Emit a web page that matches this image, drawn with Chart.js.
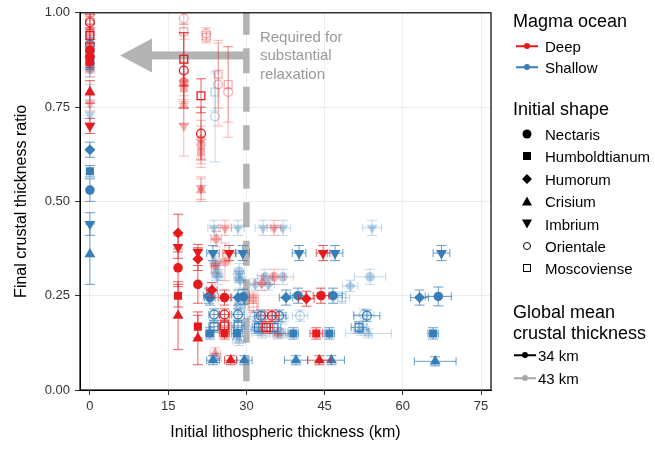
<!DOCTYPE html>
<html>
<head>
<meta charset="utf-8">
<script src="https://cdn.jsdelivr.net/npm/chart.js@4.4.0/dist/chart.umd.min.js"></script>
<style>
  body { margin: 0; background: #fff; font-family: "Liberation Sans", Arial, Helvetica, sans-serif; }
  #wrap { position: relative; width: 655px; height: 449px; }
  #legend { position: absolute; left: 0; top: 0; width: 655px; height: 449px; pointer-events: none; }
  .lg { position: absolute; white-space: nowrap; line-height: 1; transform: translateY(-50%); color: #000; }
  .sym { position: absolute; }
</style>
</head>
<body>
<div id="wrap">
  <canvas id="chart" width="655" height="449"></canvas>
  <div id="legend"></div>
</div>
<script>
const F = '"Liberation Sans", Arial, Helvetica, sans-serif';
Chart.defaults.font.family = F;

// ---- data ----
const xTicks = [0, 15, 30, 45, 60, 75];
const yTicks = [0, 0.25, 0.5, 0.75, 1];

const shapeCodes = ['N', 'H', 'U', 'C', 'I', 'O', 'M'];
const shapeNames = ['Nectaris', 'Humboldtianum', 'Humorum', 'Crisium', 'Imbrium', 'Orientale', 'Moscoviense'];
const oceanNames = ['Deep', 'Shallow'];
const crustNames = ['34 km', '43 km'];

// deep magma ocean, 34 km crust
const deep34Basin = ['N','H','U','C','I','O','M', 'U','I','N','H','C', 'O','M', 'I','U','N','H','C', 'O','M',
                     'I','C','H','N','U','O','M', 'I','C','H','N','U','O','M'];
const deep34Lith = [0,0,0,0,0,0,0, 16.9,16.9,16.9,16.9,16.9, 18,18, 20.7,20.7,20.7,20.7,20.7, 21.3,21.3,
                    26.7,27,25.8,25.8,23.4,25.8,25.8, 44.7,44,43.4,44.3,41.5,34.9,33.8];
const deep34LithErr = [0,0,0,0,0,0,0, 0,0,0,0,0, 0,0, 0,0,0,0,0, 0,0,
                       1.2,1.2,1,1.2,1,1,1, 1.3,2.2,1.2,1.5,1.5,1.3,1.2];
const deep34Ratio = [0.90,0.87,0.885,0.79,0.70,0.975,0.94, 0.416,0.379,0.324,0.25,0.197, 0.847,0.877,
                     0.366,0.347,0.28,0.168,0.137, 0.68,0.78,
                     0.363,0.079,0.15,0.245,0.265,0.2,0.17, 0.363,0.079,0.15,0.25,0.242,0.197,0.166];
const deep34RatioErr = [0.02,0.015,0.02,0.03,0.02,0.02,0.02, 0.05,0.03,0.05,0.03,0.09, 0.1,0.07,
                        0.02,0.03,0.05,0.03,0.07, 0.07,0.045,
                        0.02,0.012,0.015,0.02,0.02,0.015,0.015, 0.02,0.012,0.015,0.02,0.02,0.015,0.015];

// shallow magma ocean, 34 km crust
const shallow34Basin = ['N','H','U','C','I','O','M', 'I','C','H','N','U','O','M', 'I','C','H','N','U','O','M',
                        'I','C','H','N','U','O','M', 'I','C','H','N','O','M', 'I','C','H','N','U','O','M'];
const shallow34Lith = [0,0,0,0,0,0,0, 23.6,23.6,23.0,23.0,22.8,23.8,23.8, 29.3,29.6,28.2,29.4,28.4,28.4,28.4,
                       40.1,39.5,39.0,39.9,37.6,32.8,32.3, 47.0,46.3,45.9,46.6,36.3,35.3,
                       67.4,66.2,65.8,66.8,63.2,53.1,51.6];
const shallow34LithErr = [0,0,0,0,0,0,0, 1.2,1.2,0.8,1,1,1,1, 1.3,1.5,1,1.2,1.2,1.2,1.2,
                          1.3,2.2,1,1.5,1.3,1.2,1.2, 1.5,2.5,1,1.8,1.3,1.3, 1.6,4,1,2.5,1.7,2.5,1.5];
const shallow34Ratio = [0.53,0.58,0.637,0.36,0.44,0.915,0.87, 0.363,0.079,0.15,0.245,0.25,0.2,0.168,
                        0.363,0.079,0.15,0.247,0.245,0.2,0.17, 0.363,0.079,0.15,0.25,0.245,0.197,0.166,
                        0.363,0.079,0.15,0.25,0.197,0.166, 0.363,0.076,0.15,0.248,0.245,0.197,0.166];
const shallow34RatioErr = [0.03,0.015,0.02,0.08,0.03,0.02,0.02, 0.02,0.012,0.015,0.02,0.02,0.015,0.015,
                           0.02,0.012,0.015,0.02,0.02,0.015,0.015, 0.02,0.012,0.015,0.02,0.02,0.015,0.015,
                           0.02,0.012,0.015,0.02,0.015,0.015, 0.02,0.012,0.015,0.025,0.02,0.015,0.015];

// deep magma ocean, 43 km crust
const deep43Basin = ['N','H','U','C','I','O','M', 'O','M','N','U','H','C','I', 'O','M', 'N','U','H','C','I',
                     'O','M', 'O','M', 'I','U','N','H','C', 'I','N','U','H','C','O','M'];
const deep43Lith = [0,0,0,0,0,0,0, 18,18,18,18,18,18,18, 22.3,22.3, 21.3,21.3,21.3,21.3,21.3,
                    24.6,24.6, 26.5,26.5, 25.9,24.2,25.9,24.0,24.0, 35.3,35.3,33.0,31.3,36.0,33.5,31.3];
const deep43LithErr = [0,0,0,0,0,0,0, 0,0,0,0,0,0,0, 0,0, 0,0,0,0,0,
                       0,0, 0,0, 1.2,1,1,0.8,1, 1.3,2,1.5,1,2,1.2,1];
const deep43Ratio = [0.95,0.92,0.91,0.85,0.76,1.0,0.98, 0.985,0.95,0.815,0.82,0.80,0.755,0.70, 0.945,0.935,
                     0.65,0.665,0.63,0.53,0.535, 0.81,0.837, 0.79,0.81,
                     0.43,0.40,0.34,0.33,0.097, 0.43,0.30,0.284,0.245,0.15,0.197,0.22];
const deep43RatioErr = [0.02,0.02,0.02,0.02,0.02,0.02,0.02, 0.015,0.02,0.05,0.05,0.04,0.05,0.08, 0.015,0.015,
                        0.05,0.05,0.04,0.03,0.03, 0.11,0.09, 0.12,0.1,
                        0.02,0.02,0.05,0.02,0.015, 0.02,0.02,0.02,0.015,0.012,0.015,0.015];

// shallow magma ocean, 43 km crust
const shallow43Basin = ['N','H','U','C','I','O','M', 'O','M', 'I','H','N','U','C', 'I','N','H','U','C','O','M',
                        'I','N','U','H','C','O','M', 'I','N','U','H','C','O','M', 'I','N','U','C','M','O','H'];
const shallow43Lith = [0,0,0,0,0,0,0, 24,24, 23.8,24.0,24.3,24.5,24.2, 28.4,28.6,28.6,28.8,28.6,28.8,28.8,
                       33.2,33.6,31.7,32.0,33.0,31.5,32.5, 37.0,37.0,34.2,36.0,37.0,40.3,36.8,
                       54.1,53.7,49.9,53.4,48.3,52.5,52.0];
const shallow43LithErr = [0,0,0,0,0,0,0, 0,0, 1.2,1,1,1,1, 1.2,1,1,1,1.2,1,1,
                          1.5,1.5,1,1.2,2,1.2,1.2, 1.5,2,1.2,1.5,2.5,1.5,1.2, 1.8,3,1.5,4.4,1.5,2,1.5];
const shallow43Ratio = [0.90,0.86,0.85,0.79,0.73,0.945,0.91, 0.725,0.79, 0.43,0.335,0.31,0.30,0.085,
                        0.43,0.315,0.30,0.29,0.13,0.23,0.22, 0.43,0.30,0.28,0.16,0.15,0.195,0.19,
                        0.43,0.30,0.28,0.15,0.15,0.197,0.19, 0.43,0.30,0.276,0.15,0.245,0.20,0.16];
const shallow43RatioErr = [0.02,0.02,0.02,0.02,0.02,0.02,0.02, 0.12,0.05, 0.02,0.02,0.02,0.02,0.012,
                           0.02,0.02,0.015,0.02,0.012,0.015,0.015, 0.02,0.02,0.015,0.015,0.012,0.015,0.015,
                           0.02,0.02,0.015,0.015,0.012,0.015,0.015, 0.02,0.02,0.015,0.012,0.015,0.015,0.015];

// annotation
const guideX = 30;
const arrowY = 0.887, arrowTipX = 5.8, arrowHeadX = 11.9;
const noteX = 32.6, noteY = 0.934;
const noteLines = ['Required for', 'substantial', 'relaxation'];

const RED = [228, 26, 28], BLUE = [55, 126, 184];
function rgba(c, a) { return 'rgba(' + c[0] + ',' + c[1] + ',' + c[2] + ',' + a + ')'; }

function styleFor(code) {
  switch (code) {
    case 'N': return { ps: 'circle', r: 4.8, rot: 0, fill: true };
    case 'H': return { ps: 'rect', r: 5.7, rot: 0, fill: true };
    case 'U': return { ps: 'rectRot', r: 5.5, rot: 0, fill: true };
    case 'C': return { ps: 'triangle', r: 6.3, rot: 0, fill: true };
    case 'I': return { ps: 'triangle', r: 6.3, rot: 180, fill: true };
    case 'O': return { ps: 'circle', r: 4.4, rot: 0, fill: false };
    case 'M': return { ps: 'rect', r: 5.5, rot: 0, fill: false };
  }
}

function makeSet(label, color, alpha, barAlpha, basins, xs, xe, ys, ye) {
  return {
    label: label,
    data: xs.map((x, i) => ({ x: x, y: ys[i] })),
    color: color, barAlpha: barAlpha, xErr: xe, yErr: ye,
    pointStyle: c => styleFor(basins[c.dataIndex]).ps,
    pointRotation: c => styleFor(basins[c.dataIndex]).rot,
    pointRadius: c => styleFor(basins[c.dataIndex]).r,
    pointHoverRadius: c => styleFor(basins[c.dataIndex]).r,
    pointBackgroundColor: c => styleFor(basins[c.dataIndex]).fill ? rgba(color, alpha) : 'rgba(0,0,0,0)',
    pointBorderColor: rgba(color, alpha),
    pointBorderWidth: c => styleFor(basins[c.dataIndex]).fill ? 0 : 1.3,
    showLine: false
  };
}

const datasets = [
  makeSet('Deep 34 km', RED, 1, 0.7, deep34Basin, deep34Lith, deep34LithErr, deep34Ratio, deep34RatioErr),
  makeSet('Shallow 34 km', BLUE, 1, 0.75, shallow34Basin, shallow34Lith, shallow34LithErr, shallow34Ratio, shallow34RatioErr),
  makeSet('Deep 43 km', RED, 0.35, 0.3, deep43Basin, deep43Lith, deep43LithErr, deep43Ratio, deep43RatioErr),
  makeSet('Shallow 43 km', BLUE, 0.35, 0.3, shallow43Basin, shallow43Lith, shallow43LithErr, shallow43Ratio, shallow43RatioErr)
];

// error bars, drawn under each dataset's points
const errorBars = {
  id: 'errorBars',
  beforeDatasetDraw(chart, args) {
    const ds = chart.data.datasets[args.index];
    const { ctx, chartArea: a, scales: { x, y } } = chart;
    ctx.save();
    ctx.beginPath(); ctx.rect(a.left, a.top, a.right - a.left, a.bottom - a.top); ctx.clip();
    ctx.strokeStyle = rgba(ds.color, ds.barAlpha);
    ctx.lineWidth = 1;
    ds.data.forEach((p, i) => {
      const px = x.getPixelForValue(p.x), py = y.getPixelForValue(p.y);
      const xe = ds.xErr[i], ye = ds.yErr[i];
      ctx.beginPath();
      if (xe > 0) {
        const l = x.getPixelForValue(p.x - xe), r = x.getPixelForValue(p.x + xe);
        ctx.moveTo(l, py); ctx.lineTo(r, py);
        ctx.moveTo(l, py - 4); ctx.lineTo(l, py + 4);
        ctx.moveTo(r, py - 4); ctx.lineTo(r, py + 4);
      }
      if (ye > 0) {
        const t = y.getPixelForValue(p.y + ye), b = y.getPixelForValue(p.y - ye);
        ctx.moveTo(px, t); ctx.lineTo(px, b);
        ctx.moveTo(px - 5, t); ctx.lineTo(px + 5, t);
        ctx.moveTo(px - 5, b); ctx.lineTo(px + 5, b);
      }
      ctx.stroke();
    });
    ctx.restore();
  }
};

// dashed threshold, arrow and note
const guide = {
  id: 'guide',
  beforeDatasetsDraw(chart) {
    const { ctx, chartArea: a, scales: { x, y } } = chart;
    const gx = x.getPixelForValue(guideX);
    ctx.save();
    ctx.strokeStyle = '#b3b3b3';
    ctx.lineWidth = 6.5;
    ctx.setLineDash([25, 13.5]);
    ctx.lineDashOffset = 3;
    ctx.beginPath(); ctx.moveTo(gx, a.top); ctx.lineTo(gx, a.bottom); ctx.stroke();
    ctx.setLineDash([]);

    const ay = y.getPixelForValue(arrowY);
    const tip = x.getPixelForValue(arrowTipX), head = x.getPixelForValue(arrowHeadX);
    ctx.fillStyle = '#b3b3b3';
    ctx.fillRect(head - 2, ay - 4, gx - head, 8);
    ctx.beginPath();
    ctx.moveTo(tip, ay); ctx.lineTo(head, ay - 17); ctx.lineTo(head, ay + 17);
    ctx.closePath(); ctx.fill();

    ctx.fillStyle = '#999';
    ctx.font = '15px ' + F;
    ctx.textBaseline = 'middle';
    ctx.textAlign = 'left';
    const nx = x.getPixelForValue(noteX), ny = y.getPixelForValue(noteY);
    noteLines.forEach((t, i) => ctx.fillText(t, nx, ny + i * 18.5));
    ctx.restore();
  }
};

const frame = {
  id: 'frame',
  afterDraw(chart) {
    const { ctx, chartArea: a } = chart;
    ctx.save();
    ctx.strokeStyle = '#000';
    ctx.lineWidth = 1.2;
    ctx.strokeRect(a.left, a.top, a.right - a.left, a.bottom - a.top);
    ctx.restore();
  }
};

new Chart(document.getElementById('chart'), {
  type: 'scatter',
  data: { datasets: datasets },
  options: {
    responsive: false,
    animation: false,
    events: [],
    layout: { padding: { top: 10, right: 164, left: 0, bottom: 0 } },
    plugins: { legend: { display: false }, tooltip: { enabled: false } },
    scales: {
      x: {
        type: 'linear', min: -1.9, max: 76.9,
        afterBuildTicks: s => { s.ticks = xTicks.map(v => ({ value: v })); },
        afterFit: s => { s.height = 59; },
        ticks: { autoSkip: false, maxRotation: 0, color: '#333', font: { size: 13 }, padding: 4 },
        grid: { color: '#ededed', tickColor: '#333', tickLength: 5 },
        border: { color: '#000', width: 1 },
        title: { display: true, text: 'Initial lithospheric thickness (km)', color: '#000',
                 font: { size: 16 }, padding: { top: 7, bottom: 7 } }
      },
      y: {
        type: 'linear', min: 0, max: 1,
        afterBuildTicks: s => { s.ticks = yTicks.map(v => ({ value: v })); },
        afterFit: s => { s.width = 80; },
        ticks: { autoSkip: false, color: '#333', font: { size: 13 }, padding: 5,
                 callback: v => Number(v).toFixed(2) },
        grid: { color: '#ededed', tickColor: '#333', tickLength: 5 },
        border: { color: '#000', width: 1 },
        title: { display: true, text: 'Final crustal thickness ratio', color: '#000',
                 font: { size: 16 }, padding: { top: 12, bottom: 12 } }
      }
    }
  },
  plugins: [guide, errorBars, frame]
});

// ---- legend (html) ----
const legend = document.getElementById('legend');
function addText(text, left, y, size, color) {
  const d = document.createElement('div');
  d.className = 'lg';
  d.textContent = text;
  d.style.left = left + 'px';
  d.style.top = y + 'px';
  d.style.fontSize = size + 'px';
  if (color) d.style.color = color;
  legend.appendChild(d);
}
function addBox(css, cx, cy, extra) {
  const d = document.createElement('div');
  d.className = 'sym';
  d.style.cssText += css;
  d.style.left = cx + 'px';
  d.style.top = cy + 'px';
  d.style.transform = 'translate(-50%,-50%)' + (extra || '');
  legend.appendChild(d);
}
function addLineKey(cx, cy, color) {
  addBox('width:22px;height:1.5px;background:' + color + ';', cx, cy);
  addBox('width:6px;height:6px;border-radius:50%;background:' + color + ';', cx, cy);
}
const shapeCss = {
  N: ['width:9px;height:9px;border-radius:50%;background:#000;', ''],
  H: ['width:8px;height:8px;background:#000;', ''],
  U: ['width:7px;height:7px;background:#000;', ' rotate(45deg)'],
  C: ['width:0;height:0;border-left:5px solid transparent;border-right:5px solid transparent;border-bottom:9px solid #000;', ''],
  I: ['width:0;height:0;border-left:5px solid transparent;border-right:5px solid transparent;border-top:9px solid #000;', ''],
  O: ['width:6px;height:6px;border-radius:50%;border:1.3px solid #000;', ''],
  M: ['width:6px;height:6px;border:1.3px solid #000;', '']
};

const titleX = 513, itemX = 545, keyX = 527;
addText('Magma ocean', titleX, 21, 18);
addLineKey(keyX, 46, rgba(RED, 1)); addText(oceanNames[0], itemX, 46, 15);
addLineKey(keyX, 67, rgba(BLUE, 1)); addText(oceanNames[1], itemX, 67, 15);

addText('Initial shape', titleX, 109, 18);
const shapeRowsY = [134, 156, 179, 201, 224, 246, 268];
shapeCodes.forEach((c, i) => {
  addBox(shapeCss[c][0], keyX, shapeRowsY[i], shapeCss[c][1]);
  addText(shapeNames[i], itemX, shapeRowsY[i], 15);
});

addText('Global mean', titleX, 312, 18);
addText('crustal thickness', titleX, 333, 18);
addLineKey(keyX - 2, 355, '#000'); addText(crustNames[0], itemX - 7, 355, 15);
addLineKey(keyX - 2, 378, '#a8a8a8'); addText(crustNames[1], itemX - 7, 378, 15);
</script>
</body>
</html>
